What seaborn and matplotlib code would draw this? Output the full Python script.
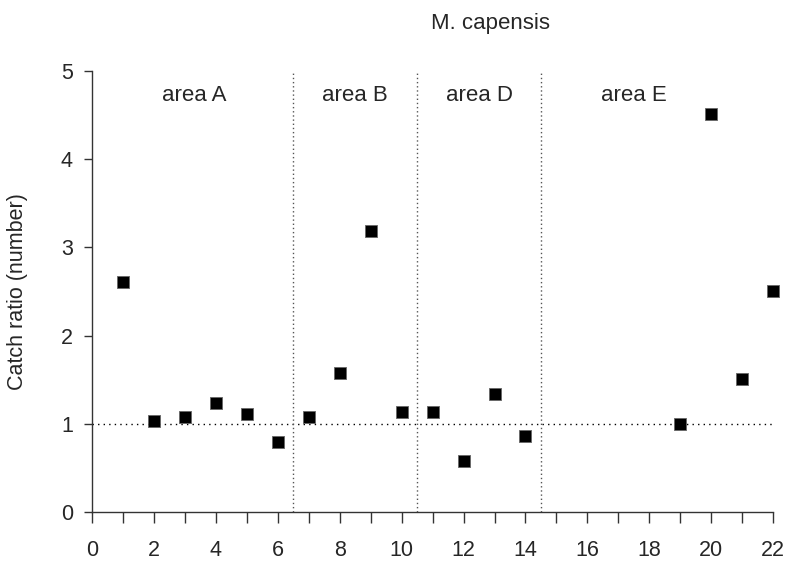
import matplotlib
matplotlib.use("Agg")
import matplotlib.pyplot as plt
import seaborn as sns
import pandas as pd

# data
station = [1, 2, 3, 4, 5, 6, 7, 8, 9, 10, 11, 12, 13, 14, 19, 20, 21, 22]
catch_ratio = [2.61, 1.03, 1.08, 1.24, 1.11, 0.79, 1.08, 1.58, 3.19, 1.13,
               1.13, 0.58, 1.34, 0.86, 1.00, 4.51, 1.51, 2.51]
area_labels = ["area A", "area B", "area D", "area E"]
area_label_x = [3.3, 8.5, 12.5, 17.5]
area_bounds = [6.5, 10.5, 14.5]
title = "M. capensis"
ylabel = "Catch ratio (number)"

sns.set_style("ticks")
plt.rcParams["font.family"] = ["Liberation Sans", "DejaVu Sans"]

df = pd.DataFrame({"station": station, "ratio": catch_ratio})

fig = plt.figure(figsize=(7.88, 5.65), dpi=100)
ax = fig.add_axes([0.117, 0.094, 0.864, 0.780])

# reference lines
ax.axhline(1, color="black", lw=1.0, ls=(0, (1, 3)), zorder=1)
for b in area_bounds:
    ax.axvline(b, color="#555555", lw=1.0, ls=(0, (1, 2)), zorder=1)

sns.scatterplot(data=df, x="station", y="ratio", marker="s", s=78,
                color="black", edgecolor="#666666", linewidth=0.6,
                ax=ax, zorder=3, legend=False, clip_on=False)

ax.set_xlim(0, 22)
ax.set_ylim(0, 5)
ax.set_xticks(range(0, 23, 2))
ax.set_xticks(range(1, 23, 2), minor=True)
ax.set_yticks(range(0, 6))

ax.tick_params(axis="x", which="both", length=8, width=1, direction="out",
               pad=12, labelsize=15.5, color="#333333")
ax.tick_params(axis="y", which="major", length=6, width=1, direction="out",
               pad=8, labelsize=15.5, color="#333333")

for side in ["top", "right"]:
    ax.spines[side].set_visible(False)
for side in ["left", "bottom"]:
    ax.spines[side].set_color("#333333")
    ax.spines[side].set_linewidth(1.0)

ax.set_xlabel("")
ax.set_ylabel(ylabel, fontsize=15.5)
ax.yaxis.set_label_coords(-0.095, 0.5)

for lab, xp in zip(area_labels, area_label_x):
    ax.text(xp, 4.72, lab, ha="center", va="center", fontsize=16)

fig.text(0.623, 0.958, title, ha="center", va="center", fontsize=16)

fig.savefig("out.png", dpi=100)
